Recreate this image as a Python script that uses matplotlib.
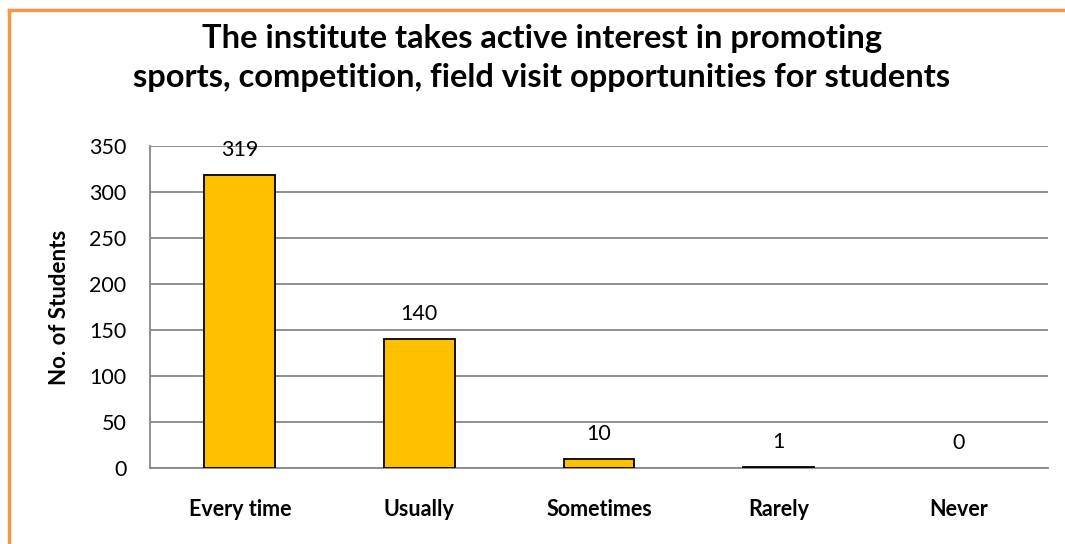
import matplotlib
matplotlib.use("Agg")
import matplotlib.pyplot as plt
from matplotlib.lines import Line2D

# data
categories = ["Every time", "Usually", "Sometimes", "Rarely", "Never"]
students = [319, 140, 10, 1, 0]
y_ticks = [0, 50, 100, 150, 200, 250, 300, 350]

title = ("The institute takes active interest in promoting\n"
         "sports, competition, field visit opportunities for students")

plt.rcParams["font.family"] = ["Lato", "DejaVu Sans"]

fig = plt.figure(figsize=(10.65, 5.44), dpi=100)
ax = fig.add_axes([150 / 1065, 1 - 468 / 544, 898 / 1065, 322 / 544])

x = range(len(categories))
edges = ["black" if v > 0 else "none" for v in students]
ax.bar(x, students, width=0.395, color="#FFC000", edgecolor=edges, linewidth=1.3, zorder=3)

for xx, v in zip(x, students):
    ax.annotate(str(v), (xx, v), xytext=(0, 18), textcoords="offset points",
                ha="center", va="center", fontsize=15.5)

ax.set_xlim(-0.5, len(categories) - 0.5)
ax.set_ylim(0, 350)
ax.set_yticks(y_ticks)
ax.set_xticks(list(x))
ax.set_xticklabels(categories, fontsize=15.5, fontweight="bold")
ax.tick_params(axis="y", labelsize=15.5, length=0, pad=17)
ax.tick_params(axis="x", length=0, pad=22)
ax.grid(axis="y", color="#878787", linewidth=1.3, zorder=0)
for side in ["top", "right"]:
    ax.spines[side].set_visible(False)
ax.spines["left"].set_color("#878787")
ax.spines["bottom"].set_color("#878787")
ax.spines["left"].set_linewidth(1.3)
ax.spines["bottom"].set_linewidth(1.3)
ax.set_ylabel("No. of Students", fontsize=16, fontweight="bold", labelpad=14)

fig.text(542 / 1065, 1 - 58 / 544, title, ha="center", va="center",
         fontsize=23.5, fontweight="bold", linespacing=1.4)

# orange frame (top and left edges visible in the crop)
fig.add_artist(Line2D([9 / 1065, 1], [1 - 10 / 544, 1 - 10 / 544], color="#F79646", linewidth=2.5))
fig.add_artist(Line2D([9 / 1065, 9 / 1065], [0, 1 - 10 / 544], color="#F79646", linewidth=2.5))

fig.savefig("out.png", dpi=100)
